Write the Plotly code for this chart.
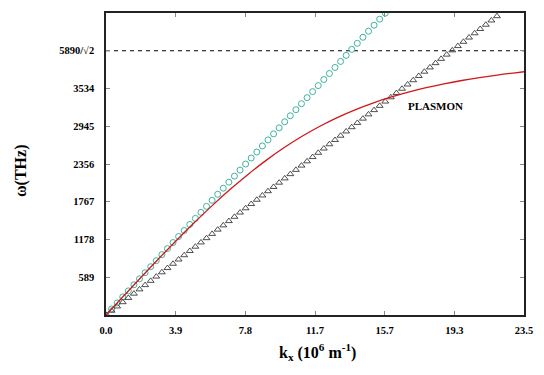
import plotly.graph_objects as go

# ---- data ----
k_samples = [0, 0.314, 0.628, 0.942, 1.256, 1.57, 1.884, 2.198, 2.512, 2.826,
             3.14, 3.454, 3.768, 4.082, 4.396, 4.71, 5.024, 5.338, 5.652, 5.966,
             6.28, 6.594, 6.908, 7.222, 7.536, 7.85, 8.164, 8.478, 8.792, 9.106,
             9.42, 9.734, 10.048, 10.362, 10.676, 10.99, 11.304, 11.618, 11.932, 12.246,
             12.56, 12.874, 13.188, 13.502, 13.816, 14.13, 14.444, 14.758, 15.072, 15.386,
             15.7, 16.014, 16.328, 16.642, 16.956, 17.27, 17.584, 17.898, 18.212, 18.526,
             18.84, 19.154, 19.468, 19.782, 20.096, 20.41, 20.724, 21.038, 21.352, 21.666,
             21.98]

omega_light = [0, 94.2, 188.4, 282.6, 376.8, 471, 565.2, 659.4, 753.6, 847.8,
               942, 1036.2, 1130.4, 1224.6, 1318.8, 1413, 1507.2, 1601.4, 1695.6, 1789.8,
               1884, 1978.2, 2072.4, 2166.6, 2260.8, 2355, 2449.2, 2543.4, 2637.6, 2731.8,
               2826, 2920.2, 3014.4, 3108.6, 3202.8, 3297, 3391.2, 3485.4, 3579.6, 3673.8,
               3768, 3862.2, 3956.4, 4050.6, 4144.8, 4239, 4333.2, 4427.4, 4521.6, 4615.8,
               4710]

omega_dielectric = [0, 66.6, 133.2, 199.8, 266.4, 333.0, 399.6, 466.2, 532.8, 599.4,
                    666.0, 732.6, 799.2, 865.8, 932.4, 999.0, 1065.6, 1132.2, 1198.8, 1265.4,
                    1332.0, 1398.6, 1465.2, 1531.8, 1598.4, 1665.0, 1731.6, 1798.2, 1864.8, 1931.4,
                    1998.0, 2064.6, 2131.2, 2197.8, 2264.4, 2331.0, 2397.6, 2464.2, 2530.8, 2597.4,
                    2664.0, 2730.6, 2797.2, 2863.8, 2930.4, 2997.0, 3063.6, 3130.2, 3196.8, 3263.4,
                    3330.0, 3396.6, 3463.2, 3529.8, 3596.4, 3663.0, 3729.6, 3796.2, 3862.8, 3929.4,
                    3996.0, 4062.6, 4129.2, 4195.8, 4262.4, 4329.0, 4395.6, 4462.2, 4528.8, 4595.4,
                    4662.0]

k_plasmon = [0, 1, 2, 3, 4, 5, 6, 7, 8, 9, 10, 11, 12, 13, 14, 15, 16, 17, 18, 19,
             20, 21, 22, 23, 23.5]
omega_plasmon = [0, 299.6, 596.9, 889.4, 1174.9, 1450.7, 1714.6, 1964.2, 2197.4, 2412.5,
                 2608.5, 2784.8, 2941.6, 3079.9, 3201.0, 3306.4, 3398.0, 3477.4, 3546.4, 3606.3,
                 3658.6, 3704.2, 3744.2, 3779.5, 3795.5]

asymptote_k = [0, 23.5]
asymptote_omega = [4123, 4123]

x_tickvals = [0, 3.9167, 7.8333, 11.75, 15.6667, 19.5833, 23.5]
x_ticktext = ["0.0", "3.9", "7.8", "11.7", "15.7", "19.3", "23.5"]
y_tickvals = [589, 1178, 1767, 2356, 2945, 3534, 4123]
y_ticktext = ["589", "1178", "1767", "2356", "2945", "3534", "5890/\u221a2"]

SERIF = "Liberation Serif, Times New Roman, serif"

fig = go.Figure()
fig.add_trace(go.Scatter(x=asymptote_k, y=asymptote_omega, mode="lines",
                         line=dict(color="black", width=1, dash="4px,4px"),
                         hoverinfo="skip"))
fig.add_trace(go.Scatter(x=k_samples[:len(omega_light)], y=omega_light, mode="markers",
                         marker=dict(symbol="circle-open", size=6, color="#3fb3a0",
                                     line=dict(width=1, color="#3fb3a0"))))
fig.add_trace(go.Scatter(x=k_samples, y=omega_dielectric, mode="markers",
                         marker=dict(symbol="triangle-up-open", size=6, color="#222222",
                                     line=dict(width=0.8, color="#222222"))))
fig.add_trace(go.Scatter(x=k_plasmon, y=omega_plasmon, mode="lines",
                         line=dict(color="#d01818", width=1.3, shape="spline")))

fig.add_annotation(x=18.5, y=3259, text="PLASMON", showarrow=False,
                   xanchor="center", yanchor="middle",
                   font=dict(family=SERIF, size=11, color="black", weight="bold"))
fig.add_annotation(xref="paper", yref="paper", x=0.507, y=-0.122,
                   xanchor="center", yanchor="middle",
                   text="k<sub>x</sub> (10<sup>6</sup> m<sup>-1</sup>)", showarrow=False,
                   font=dict(family=SERIF, size=16, color="black", weight="bold"))
fig.add_annotation(xref="paper", yref="paper", x=-0.203, y=0.477, textangle=-90,
                   xanchor="center", yanchor="middle",
                   text="\u03c9(THz)", showarrow=False,
                   font=dict(family=SERIF, size=16, color="black", weight="bold"))

axis_common = dict(showline=True, linecolor="#222222", linewidth=1.5, mirror="ticks",
                   ticks="inside", ticklen=4, tickcolor="#888888", tickwidth=1,
                   showgrid=False, zeroline=False,
                   tickfont=dict(family=SERIF, size=10.5, color="black", weight="bold"))

fig.update_xaxes(range=[0, 23.5], tickvals=x_tickvals, ticktext=x_ticktext,
                 ticklabelstandoff=5, **axis_common)
fig.update_yaxes(range=[0, 4712], tickvals=y_tickvals, ticktext=y_ticktext,
                 ticklabelstandoff=8, **axis_common)

fig.update_layout(width=544, height=375, margin=dict(l=106, r=20, t=11, b=60),
                  paper_bgcolor="white", plot_bgcolor="white", showlegend=False)

fig.write_html("out.html", config={"displayModeBar": False},
               post_script="document.body.style.margin='0px';document.body.style.padding='0px';")
